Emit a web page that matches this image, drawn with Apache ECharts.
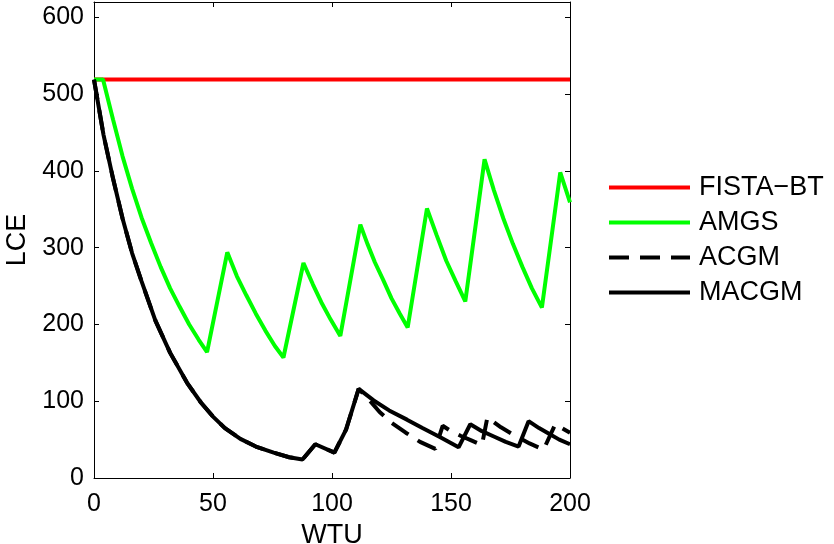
<!DOCTYPE html>
<html>
<head>
<meta charset="utf-8">
<script src="https://cdn.jsdelivr.net/npm/echarts@6/dist/echarts.min.js"></script>
<style>
  html, body { margin: 0; padding: 0; background: #fff; }
  #chart { width: 834px; height: 544px; }
</style>
</head>
<body>
<div id="chart"></div>
<script>
// values, [WTU, LCE]
const fistaBT = [[0, 519], [200, 519]];

const amgs = [
  [0, 519], [3.8, 519], [8, 467], [12, 419], [16, 377], [20, 339], [24, 306], [28, 275], [32, 247],
  [36, 223], [40, 200], [44, 180], [47.5, 164],
  [56, 294], [60, 263], [64, 238], [68, 214], [72, 192], [76, 172], [79.6, 157],
  [88, 280], [92, 252], [95.5, 229], [99.5, 206], [103.5, 185],
  [111.9, 330], [115, 304], [118, 281], [121.5, 258], [125, 234], [128.5, 214], [131.8, 196],
  [139.9, 351], [144, 316], [148, 283], [152, 256], [156, 230],
  [164.1, 415], [168, 375], [172, 338], [176, 305], [180, 275], [184, 247], [188.2, 222],
  [195.9, 398], [200, 359]
];

const acgm = [
  [0, 519], [4, 447], [8, 390], [12, 338], [16, 293], [20, 256], [25.8, 205], [32, 163], [39.1, 124],
  [45, 98], [50, 80], [55, 65], [61.5, 51], [68, 41], [75.5, 33], [82, 27], [87.6, 24],
  [93, 44], [101, 33], [105.9, 63], [111.2, 116],
  [115, 104], [120, 86], [125, 72], [131, 59], [137, 47], [143.4, 38],
  [146.5, 68], [150, 61], [154, 55], [158.5, 49], [163, 43],
  [165.3, 79], [171, 66], [177, 55], [183, 45], [188.9, 37],
  [193.8, 70], [200, 59]
];

const macgm = [
  [0, 519], [4, 447], [8, 390], [12, 338], [16, 293], [20, 256], [25.8, 205], [32, 163], [39.1, 124],
  [45, 98], [50, 80], [55, 65], [61.5, 51], [68, 41], [75.5, 33], [82, 27], [87.6, 24],
  [93, 44], [101, 33], [105.9, 63], [111.2, 116],
  [117.5, 101], [124, 88], [131.5, 76], [138, 65], [145.5, 53], [153.2, 40],
  [158.1, 70], [163, 61], [168, 54], [173, 47], [178.4, 41],
  [182.6, 74], [187, 65], [191, 58], [195.5, 50], [200, 44]
];

const seriesNames = ['FISTA\u2212BT', 'AMGS', 'ACGM', 'MACGM'];

const font = 'Liberation Sans, Arial, sans-serif';
const chart = echarts.init(document.getElementById('chart'));

const boxAxis = {
  axisLine: { show: true, onZero: false, lineStyle: { color: '#000', width: 1 } },
  axisTick: { show: true, inside: true, length: 5, lineStyle: { color: '#000' } },
  splitLine: { show: false }
};

chart.setOption({
  animation: false,
  grid: { left: 94, right: 264, top: 2, bottom: 66, containLabel: false, outerBoundsMode: 'none' },
  legend: {
    orient: 'vertical',
    left: 607,
    top: 174,
    padding: 0,
    itemWidth: 81,
    itemHeight: 14,
    itemGap: 8,
    data: seriesNames,
    itemStyle: { opacity: 0 },
    lineStyle: { width: 4 },
    textStyle: { fontFamily: font, fontSize: 27, color: '#000', lineHeight: 27, padding: [0, 0, 0, 4] }
  },
  xAxis: [
    Object.assign({}, boxAxis, {
      type: 'value', min: 0, max: 200, interval: 50, position: 'bottom',
      name: 'WTU', nameLocation: 'middle', nameGap: 43,
      nameTextStyle: { fontFamily: font, fontSize: 27, color: '#000' },
      axisLabel: { fontFamily: font, fontSize: 25, color: '#000', margin: 14 }
    }),
    Object.assign({}, boxAxis, {
      type: 'value', min: 0, max: 200, interval: 50, position: 'top',
      axisLabel: { show: false }
    })
  ],
  yAxis: [
    Object.assign({}, boxAxis, {
      type: 'value', min: 0, max: 620, interval: 100, position: 'left',
      name: 'LCE', nameLocation: 'middle', nameGap: 62,
      nameTextStyle: { fontFamily: font, fontSize: 27, color: '#000' },
      axisLabel: { fontFamily: font, fontSize: 25, color: '#000', margin: 10, showMaxLabel: false }
    }),
    Object.assign({}, boxAxis, {
      type: 'value', min: 0, max: 620, interval: 100, position: 'right',
      axisLabel: { show: false }
    })
  ],
  series: [
    { name: seriesNames[0], type: 'line', data: fistaBT, symbol: 'none', lineStyle: { color: '#ff0000', width: 4 }, itemStyle: { color: '#ff0000' } },
    { name: seriesNames[1], type: 'line', data: amgs, symbol: 'none', lineStyle: { color: '#00ff00', width: 4 }, itemStyle: { color: '#00ff00' } },
    { name: seriesNames[2], type: 'line', data: acgm, symbol: 'none', lineStyle: { color: '#000', width: 4, type: [20, 11] }, itemStyle: { color: '#000' } },
    { name: seriesNames[3], type: 'line', data: macgm, symbol: 'none', lineStyle: { color: '#000', width: 4 }, itemStyle: { color: '#000' } }
  ]
});
</script>
</body>
</html>
